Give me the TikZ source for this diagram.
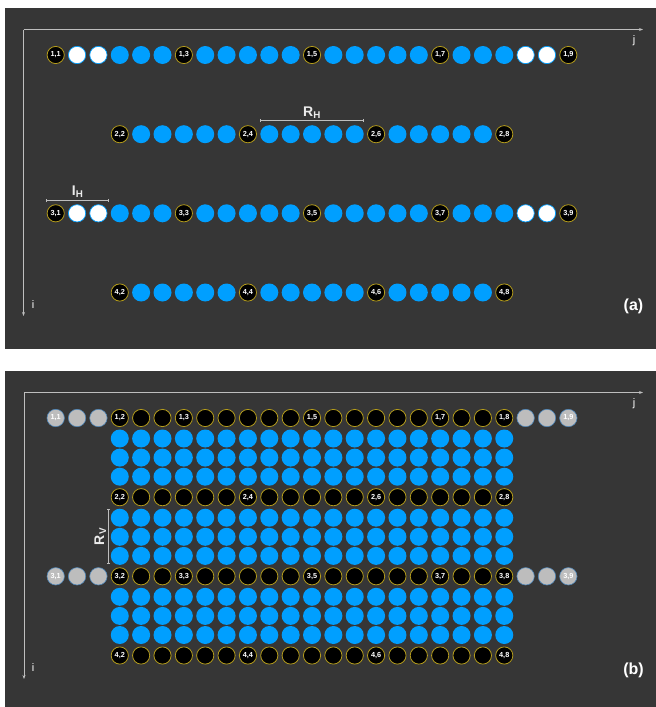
\documentclass[tikz,border=0pt]{standalone}
\usepackage{fontspec}
\setmainfont{Liberation Sans}
\usetikzlibrary{arrows.meta, positioning, calc}
\definecolor{panelGray}{HTML}{363636}
\definecolor{dotBlue}{HTML}{009FFF}
\definecolor{ringGold}{HTML}{B49C1C}
\definecolor{axisGray}{HTML}{BEBEBE}
\definecolor{haloGray}{HTML}{BDBDBD}
\definecolor{haloRim}{HTML}{4F86B8}
\colorlet{inkWhite}{white!92!black}

\tikzset{
  dot/.style={circle, minimum size=18pt, inner sep=0pt, text=white,
    font=\fontsize{7.3}{7.3}\selectfont\bfseries},
  bluedot/.style={dot, fill=dotBlue},
  tagdot/.style={dot, fill=black, draw=ringGold, line width=0.8pt, minimum size=17.2pt},
  holedot/.style={dot, fill=white, draw=dotBlue, line width=0.7pt, minimum size=17.3pt},
  ghostdot/.style={dot, fill=haloGray, draw=haloRim, line width=0.6pt, minimum size=17.4pt},
  axisline/.style={axisGray, line width=0.8pt, -{Stealth[length=4pt, width=3pt]}},
  spanline/.style={axisGray, line width=0.8pt, {Bar[width=3pt]}-{Bar[width=3pt]}},
  axislabel/.style={text=white, font=\fontsize{11}{11}\selectfont},
  spanlabel/.style={text=inkWhite, font=\fontsize{14}{14}\selectfont\bfseries},
  panellabel/.style={text=white, font=\fontsize{16}{16}\selectfont\bfseries},
}

\begin{document}
\begin{tikzpicture}[x=1pt, y=-1pt]
  \fill[white] (0,0) rectangle (656,707);
  \useasboundingbox (0,0) rectangle (656,707);
  \fill[panelGray] (5,8) rectangle (656,349);
  \fill[panelGray] (5,371) rectangle (656,707);

  % (a) halo columns only on the outer rows
  \begin{scope}
    \coordinate (oA) at (23.5,29.5);
    \coordinate (jA) at (643,29.5);
    \coordinate (iA) at (23.5,316);
    \draw[axisline] (oA) -- (jA);
    \draw[axisline] (oA) -- (iA);
    \node[axislabel] (jlabA) at (634,41) {j};
    \node[axislabel] (ilabA) at (33,305) {i};
    \foreach \r/\y in {1/55,3/213.3}{
      \foreach \c in {3,4,5,7,8,9,10,11,13,14,15,16,17,19,20,21}
        \node[bluedot] (a\r-\c) at ({55.7+21.36*\c},\y) {};
      \foreach \c in {1,2,22,23}
        \node[holedot] (a\r-\c) at ({55.7+21.36*\c},\y) {};
      \foreach \c [evaluate=\c as \j using int(\c/3+1)] in {0,6,12,18,24}
        \node[tagdot] (a\r-\c) at ({55.7+21.36*\c},\y) {\r,\j};
    }
    \foreach \r/\y in {2/134.2,4/292.5}{
      \foreach \c in {4,5,6,7,8,10,11,12,13,14,16,17,18,19,20}
        \node[bluedot] (a\r-\c) at ({55.7+21.36*\c},\y) {};
      \foreach \c [evaluate=\c as \j using int(\c/3+1)] in {3,9,15,21}
        \node[tagdot] (a\r-\c) at ({55.7+21.36*\c},\y) {\r,\j};
    }
    % spans
    \coordinate (rhL) at (260,120.7);
    \coordinate (rhR) at (363.5,120.7);
    \draw[spanline] (rhL) -- (rhR);
    \node[spanlabel, anchor=base] (rhlab) at (312,116.5) {R\textsubscript{H}};
    \coordinate (ihL) at (46,200.7);
    \coordinate (ihR) at (108.7,200.7);
    \draw[spanline] (ihL) -- (ihR);
    \node[spanlabel, anchor=base] (ihlab) at (77.7,195.5) {I\textsubscript{H}};
    \node[panellabel] (tagA) at (633.5,306.5) {(a)};
  \end{scope}

  % (b) halo rows filled in between
  \begin{scope}[shift={(0,363)}]
    \coordinate (oB) at (24,29.5);
    \coordinate (jB) at (643,29.5);
    \coordinate (iB) at (24,316);
    \draw[axisline] (oB) -- (jB);
    \draw[axisline] (oB) -- (iB);
    \node[axislabel] (jlabB) at (634,41) {j};
    \node[axislabel] (ilabB) at (33,305) {i};
    \foreach \r/\y in {1/55,2/134.2,3/213.3}
      \foreach \k/\dy in {1/20.5,2/39.6,3/58.7}
        \foreach \c in {3,...,21}
          \node[bluedot] (b\r-\k-\c) at ({55.7+21.36*\c},{\y+\dy}) {};
    \foreach \r/\y in {1/55,3/213.3}{
      \foreach \c in {1,2,22,23}
        \node[ghostdot] (b\r-\c) at ({55.7+21.36*\c},\y) {};
      \foreach \c [evaluate=\c as \j using int(\c/3+1)] in {0,24}
        \node[ghostdot] (b\r-\c) at ({55.7+21.36*\c},\y) {\r,\j};
      \foreach \c in {4,5,7,8,9,10,11,13,14,15,16,17,19,20}
        \node[tagdot] (b\r-\c) at ({55.7+21.36*\c},\y) {};
      \foreach \c [evaluate=\c as \j using int(\c/3+1)] in {3,6,12,18,21}
        \node[tagdot] (b\r-\c) at ({55.7+21.36*\c},\y) {\r,\j};
    }
    \foreach \r/\y in {2/134.2,4/292.5}{
      \foreach \c in {4,5,6,7,8,10,11,12,13,14,16,17,18,19,20}
        \node[tagdot] (b\r-\c) at ({55.7+21.36*\c},\y) {};
      \foreach \c [evaluate=\c as \j using int(\c/3+1)] in {3,9,15,21}
        \node[tagdot] (b\r-\c) at ({55.7+21.36*\c},\y) {\r,\j};
    }
    % vertical span
    \coordinate (rvT) at (108.7,146);
    \coordinate (rvB) at (108.7,201);
    \draw[spanline] (rvT) -- (rvB);
    \node[spanlabel, anchor=base, rotate=90] (rvlab) at (104,173.5) {R\textsubscript{V}};
    \node[panellabel] (tagB) at (633.5,307) {(b)};
  \end{scope}
\end{tikzpicture}
\end{document}
